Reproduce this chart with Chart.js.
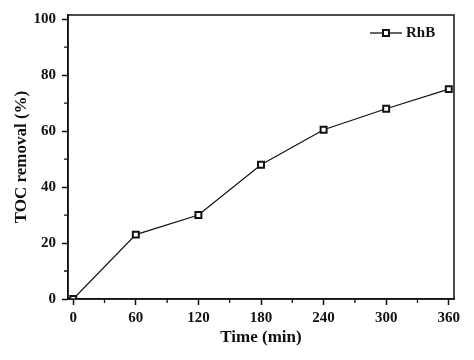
<!DOCTYPE html>
<html>
<head>
<meta charset="utf-8">
<script src="https://cdn.jsdelivr.net/npm/chart.js@4"></script>
<style>
  html, body { margin: 0; padding: 0; background: #fff; }
  #wrap { width: 474px; height: 360px; }
</style>
</head>
<body>
<div id="wrap"><canvas id="c" width="474" height="360"></canvas></div>
<script>
const seriesLabel = 'RhB';
const times = [0, 60, 120, 180, 240, 300, 360];
const tocRemoval = [0, 23, 30, 48, 60.5, 68, 75];
const xTickValues = [0, 30, 60, 90, 120, 150, 180, 210, 240, 270, 300, 330, 360];
const yTickValues = [0, 10, 20, 30, 40, 50, 60, 70, 80, 90, 100];
const xMajorStep = 60;
const yMajorStep = 20;
const xTitle = 'Time (min)';
const yTitle = 'TOC removal (%)';

const FONT = '"Liberation Serif", "Times New Roman", serif';
const INK = '#111';

function isMult(v, s) { return Math.abs(v / s - Math.round(v / s)) < 1e-6; }

const framePlugin = {
  id: 'frame',
  afterDraw(chart) {
    const { ctx, chartArea: a, scales: { x, y } } = chart;
    ctx.save();
    ctx.strokeStyle = INK;
    ctx.lineWidth = 1.5;
    ctx.strokeRect(a.left, a.top, a.right - a.left, a.bottom - a.top);
    // minor ticks
    ctx.lineWidth = 1.3;
    ctx.beginPath();
    x.ticks.forEach(t => {
      if (!isMult(t.value, xMajorStep)) {
        const px = x.getPixelForValue(t.value);
        ctx.moveTo(px, a.bottom); ctx.lineTo(px, a.bottom + 4);
      }
    });
    y.ticks.forEach(t => {
      if (!isMult(t.value, yMajorStep)) {
        const py = y.getPixelForValue(t.value);
        ctx.moveTo(a.left, py); ctx.lineTo(a.left - 4, py);
      }
    });
    ctx.stroke();
    // legend
    const ds = chart.data.datasets[0];
    const ly = 33, lx0 = 370, lx1 = 402, mx = 386;
    ctx.lineWidth = 1.3;
    ctx.beginPath(); ctx.moveTo(lx0, ly); ctx.lineTo(lx1, ly); ctx.stroke();
    ctx.fillStyle = '#fff';
    ctx.lineWidth = 2;
    ctx.fillRect(mx - 3, ly - 3, 6, 6);
    ctx.strokeRect(mx - 3, ly - 3, 6, 6);
    ctx.fillStyle = INK;
    ctx.font = 'bold 15px ' + FONT;
    ctx.textBaseline = 'middle';
    ctx.textAlign = 'left';
    ctx.fillText(ds.label, 406, ly);
    ctx.restore();
  }
};

new Chart(document.getElementById('c'), {
  type: 'line',
  data: {
    datasets: [{
      label: seriesLabel,
      data: times.map((t, i) => ({ x: t, y: tocRemoval[i] })),
      borderColor: INK,
      borderWidth: 1.2,
      pointStyle: 'rect',
      pointRadius: 4.2,
      pointBorderWidth: 2,
      pointBackgroundColor: '#fff',
      pointBorderColor: INK,
      tension: 0,
      fill: false
    }]
  },
  options: {
    responsive: false,
    animation: false,
    events: [],
    layout: { padding: { top: 13, right: 20, left: 0, bottom: 0 } },
    plugins: { legend: { display: false }, tooltip: { enabled: false } },
    scales: {
      x: {
        type: 'linear',
        min: -5, max: 365,
        afterBuildTicks(s) { s.ticks = xTickValues.map(v => ({ value: v })); },
        afterFit(s) { s.height = 61; },
        ticks: {
          autoSkip: false,
          maxRotation: 0,
          padding: 4,
          color: INK,
          font: { family: FONT, size: 15, weight: 'bold' },
          callback: v => isMult(v, xMajorStep) ? String(v) : ''
        },
        grid: {
          drawOnChartArea: false,
          tickLength: 6,
          tickWidth: 1.5,
          tickColor: ctx => (ctx.tick && isMult(ctx.tick.value, xMajorStep)) ? INK : 'rgba(0,0,0,0)'
        },
        border: { display: true, color: INK, width: 1.5 },
        title: {
          display: true, text: xTitle, color: INK,
          font: { family: FONT, size: 17, weight: 'bold' },
          padding: { top: 0, bottom: 12 }
        }
      },
      y: {
        type: 'linear',
        min: 0, max: 101.5,
        afterBuildTicks(s) { s.ticks = yTickValues.map(v => ({ value: v })); },
        afterFit(s) { s.width = 68; },
        ticks: {
          autoSkip: false,
          padding: 6,
          color: INK,
          font: { family: FONT, size: 15, weight: 'bold' },
          callback: v => isMult(v, yMajorStep) ? String(v) : ''
        },
        grid: {
          drawOnChartArea: false,
          tickLength: 6,
          tickWidth: 1.5,
          tickColor: ctx => (ctx.tick && isMult(ctx.tick.value, yMajorStep)) ? INK : 'rgba(0,0,0,0)'
        },
        border: { display: true, color: INK, width: 1.5 },
        title: {
          display: true, text: yTitle, color: INK,
          font: { family: FONT, size: 17, weight: 'bold' },
          padding: { top: 11, bottom: 0 }
        }
      }
    }
  },
  plugins: [framePlugin]
});
</script>
</body>
</html>
